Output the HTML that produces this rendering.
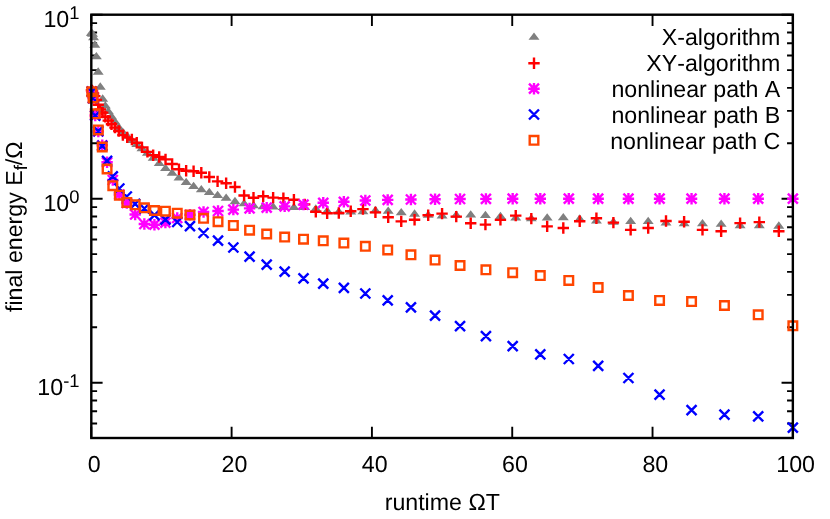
<!DOCTYPE html>
<html><head><meta charset="utf-8"><title>chart</title>
<style>html,body{margin:0;padding:0;background:#fff}svg{display:block;will-change:transform}text{font-family:"Liberation Sans",sans-serif;fill:#000;text-rendering:geometricPrecision;font-kerning:none}</style></head><body>
<svg width="830" height="519" viewBox="0 0 830 519">
<rect width="830" height="519" fill="#fff"/>
<path d="M91.30 14.70h11.3M792.85 14.70h-11.3M91.30 198.70h11.3M792.85 198.70h-11.3M91.30 143.31h5.8M792.85 143.31h-5.8M91.30 110.91h5.8M792.85 110.91h-5.8M91.30 87.92h5.8M792.85 87.92h-5.8M91.30 70.09h5.8M792.85 70.09h-5.8M91.30 55.52h5.8M792.85 55.52h-5.8M91.30 43.20h5.8M792.85 43.20h-5.8M91.30 32.53h5.8M792.85 32.53h-5.8M91.30 23.12h5.8M792.85 23.12h-5.8M91.30 382.70h11.3M792.85 382.70h-11.3M91.30 327.31h5.8M792.85 327.31h-5.8M91.30 294.91h5.8M792.85 294.91h-5.8M91.30 271.92h5.8M792.85 271.92h-5.8M91.30 254.09h5.8M792.85 254.09h-5.8M91.30 239.52h5.8M792.85 239.52h-5.8M91.30 227.20h5.8M792.85 227.20h-5.8M91.30 216.53h5.8M792.85 216.53h-5.8M91.30 207.12h5.8M792.85 207.12h-5.8M91.30 438.09h5.8M792.85 438.09h-5.8M91.30 423.52h5.8M792.85 423.52h-5.8M91.30 411.20h5.8M792.85 411.20h-5.8M91.30 400.53h5.8M792.85 400.53h-5.8M91.30 391.12h5.8M792.85 391.12h-5.8M91.30 438.00v-11.3M91.30 14.70v11.3M231.61 438.00v-11.3M231.61 14.70v11.3M371.92 438.00v-11.3M371.92 14.70v11.3M512.23 438.00v-11.3M512.23 14.70v11.3M652.54 438.00v-11.3M652.54 14.70v11.3M792.85 438.00v-11.3M792.85 14.70v11.3" stroke="#000" stroke-width="1.9" fill="none"/>
<path d="M85.94 35.65L91.44 28.35L96.94 35.65ZM86.36 35.95L91.86 28.65L97.36 35.95ZM87.06 36.65L92.56 29.35L98.06 36.65ZM88.04 40.15L93.54 32.85L99.04 40.15ZM89.31 47.65L94.81 40.35L100.31 47.65ZM90.85 59.25L96.35 51.95L101.85 59.25ZM92.68 74.65L98.18 67.35L103.68 74.65ZM94.78 89.65L100.28 82.35L105.78 89.65ZM97.17 101.65L102.67 94.35L108.17 101.65ZM99.83 108.45L105.33 101.15L110.83 108.45ZM102.78 113.95L108.28 106.65L113.78 113.95ZM106.00 119.15L111.50 111.85L117.00 119.15ZM109.51 124.45L115.01 117.15L120.51 124.45ZM113.30 130.15L118.80 122.85L124.30 130.15ZM117.37 134.95L122.87 127.65L128.37 134.95ZM121.72 138.85L127.22 131.55L132.72 138.85ZM126.35 142.95L131.85 135.65L137.35 142.95ZM131.26 146.95L136.76 139.65L142.26 146.95ZM136.45 151.15L141.95 143.85L147.45 151.15ZM141.92 155.65L147.42 148.35L152.92 155.65ZM147.68 160.65L153.18 153.35L158.68 160.65ZM153.71 166.05L159.21 158.75L164.71 166.05ZM160.02 170.95L165.52 163.65L171.02 170.95ZM166.62 175.85L172.12 168.55L177.62 175.85ZM173.49 180.55L178.99 173.25L184.49 180.55ZM180.65 184.95L186.15 177.65L191.65 184.95ZM188.09 188.95L193.59 181.65L199.09 188.95ZM195.80 192.25L201.30 184.95L206.80 192.25ZM203.80 195.05L209.30 187.75L214.80 195.05ZM212.08 197.95L217.58 190.65L223.08 197.95ZM220.64 200.85L226.14 193.55L231.64 200.85ZM229.48 204.15L234.98 196.85L240.48 204.15ZM238.60 206.25L244.10 198.95L249.60 206.25ZM248.00 208.25L253.50 200.95L259.00 208.25ZM257.68 209.15L263.18 201.85L268.68 209.15ZM267.64 209.55L273.14 202.25L278.64 209.55ZM277.88 209.95L283.38 202.65L288.88 209.95ZM288.41 209.95L293.91 202.65L299.41 209.95ZM299.21 209.95L304.71 202.65L310.21 209.95ZM310.30 211.45L315.80 204.15L321.30 211.45ZM321.66 213.75L327.16 206.45L332.66 213.75ZM333.31 214.45L338.81 207.15L344.31 214.45ZM345.23 214.55L350.73 207.25L356.23 214.55ZM357.44 214.15L362.94 206.85L368.44 214.15ZM369.93 213.15L375.43 205.85L380.93 213.15ZM382.70 213.75L388.20 206.45L393.70 213.75ZM395.74 215.25L401.24 207.95L406.74 215.25ZM409.07 216.65L414.57 209.35L420.07 216.65ZM422.68 217.85L428.18 210.55L433.68 217.85ZM436.57 218.45L442.07 211.15L447.57 218.45ZM450.75 217.85L456.25 210.55L461.75 217.85ZM465.20 217.55L470.70 210.25L476.20 217.55ZM479.93 217.95L485.43 210.65L490.93 217.95ZM494.94 218.95L500.44 211.65L505.94 218.95ZM510.24 220.55L515.74 213.25L521.24 220.55ZM525.81 221.35L531.31 214.05L536.81 221.35ZM541.67 220.55L547.17 213.25L552.67 220.55ZM557.80 220.35L563.30 213.05L568.80 220.35ZM574.22 221.65L579.72 214.35L585.22 221.65ZM590.92 223.45L596.42 216.15L601.92 223.45ZM607.89 224.65L613.39 217.35L618.89 224.65ZM625.15 224.05L630.65 216.75L636.15 224.05ZM642.69 224.05L648.19 216.75L653.69 224.05ZM660.51 225.45L666.01 218.15L671.51 225.45ZM678.61 226.25L684.11 218.95L689.61 226.25ZM696.99 226.25L702.49 218.95L707.99 226.25ZM715.65 226.75L721.15 219.45L726.65 226.75ZM734.59 228.15L740.09 220.85L745.59 228.15ZM753.82 228.15L759.32 220.85L764.82 228.15ZM773.32 228.65L778.82 221.35L784.32 228.65ZM528.50 39.85L534.00 32.55L539.50 39.85Z" fill="#808080"/>
<path d="M85.74 90.30h11.4M91.44 84.60v11.4M86.16 90.80h11.4M91.86 85.10v11.4M86.86 91.50h11.4M92.56 85.80v11.4M87.84 93.50h11.4M93.54 87.80v11.4M89.11 96.10h11.4M94.81 90.40v11.4M90.65 99.90h11.4M96.35 94.20v11.4M92.48 104.80h11.4M98.18 99.10v11.4M94.58 109.50h11.4M100.28 103.80v11.4M96.97 112.60h11.4M102.67 106.90v11.4M99.63 116.70h11.4M105.33 111.00v11.4M102.58 120.60h11.4M108.28 114.90v11.4M105.80 124.30h11.4M111.50 118.60v11.4M109.31 127.60h11.4M115.01 121.90v11.4M113.10 131.00h11.4M118.80 125.30v11.4M117.17 135.10h11.4M122.87 129.40v11.4M121.52 137.40h11.4M127.22 131.70v11.4M126.15 139.50h11.4M131.85 133.80v11.4M131.06 142.70h11.4M136.76 137.00v11.4M136.25 147.40h11.4M141.95 141.70v11.4M141.72 151.90h11.4M147.42 146.20v11.4M147.48 155.30h11.4M153.18 149.60v11.4M153.51 157.00h11.4M159.21 151.30v11.4M159.82 159.40h11.4M165.52 153.70v11.4M166.42 164.00h11.4M172.12 158.30v11.4M173.29 169.30h11.4M178.99 163.60v11.4M180.45 170.80h11.4M186.15 165.10v11.4M187.89 171.30h11.4M193.59 165.60v11.4M195.60 172.80h11.4M201.30 167.10v11.4M203.60 177.00h11.4M209.30 171.30v11.4M211.88 181.40h11.4M217.58 175.70v11.4M220.44 183.20h11.4M226.14 177.50v11.4M229.28 187.00h11.4M234.98 181.30v11.4M238.40 195.50h11.4M244.10 189.80v11.4M247.80 197.80h11.4M253.50 192.10v11.4M257.48 196.30h11.4M263.18 190.60v11.4M267.44 197.60h11.4M273.14 191.90v11.4M277.68 198.20h11.4M283.38 192.50v11.4M288.21 199.70h11.4M293.91 194.00v11.4M299.01 204.40h11.4M304.71 198.70v11.4M310.10 211.70h11.4M315.80 206.00v11.4M321.46 213.20h11.4M327.16 207.50v11.4M333.11 213.00h11.4M338.81 207.30v11.4M345.03 211.20h11.4M350.73 205.50v11.4M357.24 209.10h11.4M362.94 203.40v11.4M369.73 212.40h11.4M375.43 206.70v11.4M382.50 217.20h11.4M388.20 211.50v11.4M395.54 221.40h11.4M401.24 215.70v11.4M408.87 219.80h11.4M414.57 214.10v11.4M422.48 215.20h11.4M428.18 209.50v11.4M436.38 213.60h11.4M442.07 207.90v11.4M450.55 216.60h11.4M456.25 210.90v11.4M465.00 223.30h11.4M470.70 217.60v11.4M479.73 224.60h11.4M485.43 218.90v11.4M494.74 219.90h11.4M500.44 214.20v11.4M510.04 215.60h11.4M515.74 209.90v11.4M525.61 218.60h11.4M531.31 212.90v11.4M541.47 226.40h11.4M547.17 220.70v11.4M557.60 228.00h11.4M563.30 222.30v11.4M574.02 221.30h11.4M579.72 215.60v11.4M590.72 218.20h11.4M596.42 212.50v11.4M607.69 222.60h11.4M613.39 216.90v11.4M624.95 229.90h11.4M630.65 224.20v11.4M642.49 228.00h11.4M648.19 222.30v11.4M660.31 221.00h11.4M666.01 215.30v11.4M678.41 221.80h11.4M684.11 216.10v11.4M696.79 229.90h11.4M702.49 224.20v11.4M715.45 231.20h11.4M721.15 225.50v11.4M734.39 223.10h11.4M740.09 217.40v11.4M753.62 222.10h11.4M759.32 216.40v11.4M773.12 231.20h11.4M778.82 225.50v11.4M528.30 63.20h11.4M534.00 57.50v11.4" stroke="#ff0000" stroke-width="2.4" fill="none"/>
<path d="M86.04 91.70h11.4M91.74 86.00v11.4M86.74 86.70l10.0 10.0M86.74 96.70l10.0 -10.0M87.35 98.10h11.4M93.05 92.40v11.4M88.05 93.10l10.0 10.0M88.05 103.10l10.0 -10.0M89.55 115.50h11.4M95.25 109.80v11.4M90.25 110.50l10.0 10.0M90.25 120.50l10.0 -10.0M92.62 131.50h11.4M98.32 125.80v11.4M93.32 126.50l10.0 10.0M93.32 136.50l10.0 -10.0M96.56 145.30h11.4M102.26 139.60v11.4M97.26 140.30l10.0 10.0M97.26 150.30l10.0 -10.0M101.38 162.30h11.4M107.08 156.60v11.4M102.08 157.30l10.0 10.0M102.08 167.30l10.0 -10.0M107.08 180.00h11.4M112.78 174.30v11.4M107.78 175.00l10.0 10.0M107.78 185.00l10.0 -10.0M113.66 194.50h11.4M119.36 188.80v11.4M114.36 189.50l10.0 10.0M114.36 199.50l10.0 -10.0M121.12 203.00h11.4M126.82 197.30v11.4M121.82 198.00l10.0 10.0M121.82 208.00l10.0 -10.0M129.45 214.50h11.4M135.15 208.80v11.4M130.15 209.50l10.0 10.0M130.15 219.50l10.0 -10.0M138.65 224.00h11.4M144.35 218.30v11.4M139.35 219.00l10.0 10.0M139.35 229.00l10.0 -10.0M148.74 224.70h11.4M154.44 219.00v11.4M149.44 219.70l10.0 10.0M149.44 229.70l10.0 -10.0M159.70 222.60h11.4M165.40 216.90v11.4M160.40 217.60l10.0 10.0M160.40 227.60l10.0 -10.0M171.54 218.00h11.4M177.24 212.30v11.4M172.24 213.00l10.0 10.0M172.24 223.00l10.0 -10.0M184.26 214.80h11.4M189.96 209.10v11.4M184.96 209.80l10.0 10.0M184.96 219.80l10.0 -10.0M197.85 212.00h11.4M203.55 206.30v11.4M198.55 207.00l10.0 10.0M198.55 217.00l10.0 -10.0M212.32 211.00h11.4M218.02 205.30v11.4M213.02 206.00l10.0 10.0M213.02 216.00l10.0 -10.0M227.66 209.60h11.4M233.36 203.90v11.4M228.36 204.60l10.0 10.0M228.36 214.60l10.0 -10.0M243.89 208.40h11.4M249.59 202.70v11.4M244.59 203.40l10.0 10.0M244.59 213.40l10.0 -10.0M260.99 207.60h11.4M266.69 201.90v11.4M261.69 202.60l10.0 10.0M261.69 212.60l10.0 -10.0M278.96 206.40h11.4M284.66 200.70v11.4M279.66 201.40l10.0 10.0M279.66 211.40l10.0 -10.0M297.82 204.60h11.4M303.52 198.90v11.4M298.52 199.60l10.0 10.0M298.52 209.60l10.0 -10.0M317.55 202.80h11.4M323.25 197.10v11.4M318.25 197.80l10.0 10.0M318.25 207.80l10.0 -10.0M338.16 201.80h11.4M343.86 196.10v11.4M338.86 196.80l10.0 10.0M338.86 206.80l10.0 -10.0M359.64 200.50h11.4M365.34 194.80v11.4M360.34 195.50l10.0 10.0M360.34 205.50l10.0 -10.0M382.00 199.90h11.4M387.70 194.20v11.4M382.70 194.90l10.0 10.0M382.70 204.90l10.0 -10.0M405.24 199.50h11.4M410.94 193.80v11.4M405.94 194.50l10.0 10.0M405.94 204.50l10.0 -10.0M429.36 199.20h11.4M435.06 193.50v11.4M430.06 194.20l10.0 10.0M430.06 204.20l10.0 -10.0M454.35 199.00h11.4M460.05 193.30v11.4M455.05 194.00l10.0 10.0M455.05 204.00l10.0 -10.0M480.22 198.90h11.4M485.92 193.20v11.4M480.92 193.90l10.0 10.0M480.92 203.90l10.0 -10.0M506.97 198.70h11.4M512.67 193.00v11.4M507.67 193.70l10.0 10.0M507.67 203.70l10.0 -10.0M534.59 198.70h11.4M540.29 193.00v11.4M535.29 193.70l10.0 10.0M535.29 203.70l10.0 -10.0M563.09 198.70h11.4M568.79 193.00v11.4M563.79 193.70l10.0 10.0M563.79 203.70l10.0 -10.0M592.47 198.70h11.4M598.17 193.00v11.4M593.17 193.70l10.0 10.0M593.17 203.70l10.0 -10.0M622.72 198.70h11.4M628.42 193.00v11.4M623.42 193.70l10.0 10.0M623.42 203.70l10.0 -10.0M653.86 198.70h11.4M659.56 193.00v11.4M654.56 193.70l10.0 10.0M654.56 203.70l10.0 -10.0M685.86 198.70h11.4M691.56 193.00v11.4M686.56 193.70l10.0 10.0M686.56 203.70l10.0 -10.0M718.75 198.70h11.4M724.45 193.00v11.4M719.45 193.70l10.0 10.0M719.45 203.70l10.0 -10.0M752.51 198.70h11.4M758.21 193.00v11.4M753.21 193.70l10.0 10.0M753.21 203.70l10.0 -10.0M787.15 198.70h11.4M792.85 193.00v11.4M787.85 193.70l10.0 10.0M787.85 203.70l10.0 -10.0M528.30 88.70h11.4M534.00 83.00v11.4M529.00 83.70l10.0 10.0M529.00 93.70l10.0 -10.0" stroke="#ff00ff" stroke-width="2.4" fill="none"/>
<path d="M86.74 86.70l10.0 10.0M86.74 96.70l10.0 -10.0M88.05 93.10l10.0 10.0M88.05 103.10l10.0 -10.0M90.25 110.70l10.0 10.0M90.25 120.70l10.0 -10.0M93.32 126.20l10.0 10.0M93.32 136.20l10.0 -10.0M97.26 140.80l10.0 10.0M97.26 150.80l10.0 -10.0M102.08 155.80l10.0 10.0M102.08 165.80l10.0 -10.0M107.78 171.40l10.0 10.0M107.78 181.40l10.0 -10.0M114.36 183.50l10.0 10.0M114.36 193.50l10.0 -10.0M121.82 191.50l10.0 10.0M121.82 201.50l10.0 -10.0M130.15 198.80l10.0 10.0M130.15 208.80l10.0 -10.0M139.35 203.50l10.0 10.0M139.35 213.50l10.0 -10.0M149.44 210.20l10.0 10.0M149.44 220.20l10.0 -10.0M160.40 214.70l10.0 10.0M160.40 224.70l10.0 -10.0M172.24 217.00l10.0 10.0M172.24 227.00l10.0 -10.0M184.96 221.20l10.0 10.0M184.96 231.20l10.0 -10.0M198.55 228.00l10.0 10.0M198.55 238.00l10.0 -10.0M213.02 235.60l10.0 10.0M213.02 245.60l10.0 -10.0M228.36 242.50l10.0 10.0M228.36 252.50l10.0 -10.0M244.59 251.60l10.0 10.0M244.59 261.60l10.0 -10.0M261.69 259.70l10.0 10.0M261.69 269.70l10.0 -10.0M279.66 266.70l10.0 10.0M279.66 276.70l10.0 -10.0M298.52 273.40l10.0 10.0M298.52 283.40l10.0 -10.0M318.25 278.60l10.0 10.0M318.25 288.60l10.0 -10.0M338.86 282.90l10.0 10.0M338.86 292.90l10.0 -10.0M360.34 288.50l10.0 10.0M360.34 298.50l10.0 -10.0M382.70 295.30l10.0 10.0M382.70 305.30l10.0 -10.0M405.94 302.40l10.0 10.0M405.94 312.40l10.0 -10.0M430.06 310.60l10.0 10.0M430.06 320.60l10.0 -10.0M455.05 321.10l10.0 10.0M455.05 331.10l10.0 -10.0M480.92 331.10l10.0 10.0M480.92 341.10l10.0 -10.0M507.67 341.10l10.0 10.0M507.67 351.10l10.0 -10.0M535.29 349.40l10.0 10.0M535.29 359.40l10.0 -10.0M563.79 354.00l10.0 10.0M563.79 364.00l10.0 -10.0M593.17 360.80l10.0 10.0M593.17 370.80l10.0 -10.0M623.42 373.00l10.0 10.0M623.42 383.00l10.0 -10.0M654.56 389.70l10.0 10.0M654.56 399.70l10.0 -10.0M686.56 405.10l10.0 10.0M686.56 415.10l10.0 -10.0M719.45 409.70l10.0 10.0M719.45 419.70l10.0 -10.0M753.21 411.30l10.0 10.0M753.21 421.30l10.0 -10.0M787.85 422.60l10.0 10.0M787.85 432.60l10.0 -10.0M529.00 109.50l10.0 10.0M529.00 119.50l10.0 -10.0" stroke="#0000ff" stroke-width="2.4" fill="none"/>
<path d="M87.44 87.50h8.6v8.6h-8.6ZM88.75 93.70h8.6v8.6h-8.6ZM90.95 109.50h8.6v8.6h-8.6ZM94.02 125.60h8.6v8.6h-8.6ZM97.96 142.70h8.6v8.6h-8.6ZM102.78 164.70h8.6v8.6h-8.6ZM108.48 181.40h8.6v8.6h-8.6ZM115.06 190.90h8.6v8.6h-8.6ZM122.52 198.10h8.6v8.6h-8.6ZM130.85 200.50h8.6v8.6h-8.6ZM140.05 203.50h8.6v8.6h-8.6ZM150.14 206.20h8.6v8.6h-8.6ZM161.10 206.90h8.6v8.6h-8.6ZM172.94 208.90h8.6v8.6h-8.6ZM185.66 210.70h8.6v8.6h-8.6ZM199.25 214.00h8.6v8.6h-8.6ZM213.72 217.40h8.6v8.6h-8.6ZM229.06 221.10h8.6v8.6h-8.6ZM245.29 225.90h8.6v8.6h-8.6ZM262.39 229.70h8.6v8.6h-8.6ZM280.36 232.80h8.6v8.6h-8.6ZM299.22 234.90h8.6v8.6h-8.6ZM318.95 236.50h8.6v8.6h-8.6ZM339.56 238.80h8.6v8.6h-8.6ZM361.04 242.00h8.6v8.6h-8.6ZM383.40 245.60h8.6v8.6h-8.6ZM406.64 250.50h8.6v8.6h-8.6ZM430.76 255.80h8.6v8.6h-8.6ZM455.75 261.20h8.6v8.6h-8.6ZM481.62 265.50h8.6v8.6h-8.6ZM508.37 268.40h8.6v8.6h-8.6ZM535.99 271.30h8.6v8.6h-8.6ZM564.49 276.10h8.6v8.6h-8.6ZM593.87 283.20h8.6v8.6h-8.6ZM624.12 291.20h8.6v8.6h-8.6ZM655.26 296.10h8.6v8.6h-8.6ZM687.26 297.30h8.6v8.6h-8.6ZM720.15 301.20h8.6v8.6h-8.6ZM753.91 310.50h8.6v8.6h-8.6ZM788.55 321.50h8.6v8.6h-8.6ZM529.70 136.00h8.6v8.6h-8.6Z" stroke="#ff4500" stroke-width="2.4" fill="none"/>
<rect x="91.3" y="14.7" width="701.55" height="423.30" fill="none" stroke="#000" stroke-width="2.4"/>
<text x="780.3" y="45.4" font-size="23.2" text-anchor="end">X-algorithm</text>
<text x="780.3" y="71.4" font-size="23.2" text-anchor="end">XY-algorithm</text>
<text x="780.3" y="96.9" font-size="23.2" text-anchor="end">nonlinear path A</text>
<text x="780.3" y="122.7" font-size="23.2" text-anchor="end">nonlinear path B</text>
<text x="780.3" y="148.5" font-size="23.2" text-anchor="end">nonlinear path C</text>
<text x="94.1" y="471.8" font-size="23.2" text-anchor="middle">0</text>
<text x="234.4" y="471.8" font-size="23.2" text-anchor="middle">20</text>
<text x="374.7" y="471.8" font-size="23.2" text-anchor="middle">40</text>
<text x="515.0" y="471.8" font-size="23.2" text-anchor="middle">60</text>
<text x="655.3" y="471.8" font-size="23.2" text-anchor="middle">80</text>
<text x="795.6" y="471.8" font-size="23.2" text-anchor="middle">100</text>
<text x="79.5" y="27.1" font-size="23.2" text-anchor="end">10<tspan font-size="18.4" dy="-8.4">1</tspan></text>
<text x="79.5" y="211.1" font-size="23.2" text-anchor="end">10<tspan font-size="18.4" dy="-8.4">0</tspan></text>
<text x="79.5" y="395.1" font-size="23.2" text-anchor="end">10<tspan font-size="18.4" dy="-8.4">-1</tspan></text>
<text x="442.3" y="509.8" font-size="23.2" text-anchor="middle">runtime ΩT</text>
<text transform="translate(22.4,226.7) rotate(-90)" font-size="23.2" text-anchor="middle">final energy E<tspan font-size="18.4" dy="5">f</tspan><tspan dy="-5">/Ω</tspan></text>
</svg></body></html>
